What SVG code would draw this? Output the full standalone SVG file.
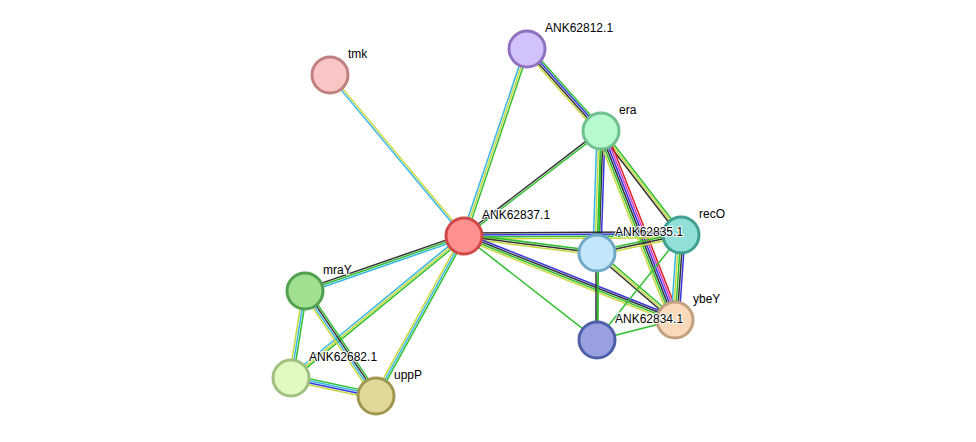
<svg xmlns="http://www.w3.org/2000/svg" width="976" height="442" viewBox="0 0 976 442">
<style>
line{stroke-width:1.5;fill:none}
.g{stroke:#2fbf2f}.y{stroke:#c8d83c}.c{stroke:#35b5e6}.k{stroke:#333}.b{stroke:#3535e0}.m{stroke:#d040d0}.r{stroke:#e02020}
circle{stroke-width:3}
text{font-family:"Liberation Sans",Arial,sans-serif;font-size:12px;fill:#000;paint-order:stroke;stroke:#fff;stroke-width:2px}
</style>
<rect width="976" height="442" fill="#fff"/>
<g id="edges">
<g transform="translate(330,75) rotate(50.2)"><line class="y" x1="0" y1="-1" x2="209.5" y2="-1"/><line class="c" x1="0" y1="1" x2="209.5" y2="1"/></g>
<g transform="translate(527,49) rotate(108.6)"><line class="g" x1="0" y1="-2" x2="197.3" y2="-2"/><line class="y" x1="0" y1="0" x2="197.3" y2="0"/><line class="c" x1="0" y1="2" x2="197.3" y2="2"/></g>
<g transform="translate(527,49) rotate(48.1)"><line class="g" x1="0" y1="-3" x2="110.5" y2="-3"/><line class="b" x1="0" y1="-1" x2="110.5" y2="-1"/><line class="k" x1="0" y1="1" x2="110.5" y2="1"/><line class="y" x1="0" y1="3" x2="110.5" y2="3"/></g>
<g transform="translate(601,131) rotate(142.5)"><line class="g" x1="0" y1="-1" x2="172.6" y2="-1"/><line class="k" x1="0" y1="1" x2="172.6" y2="1"/></g>
<g transform="translate(601,131) rotate(91.9)"><line class="b" x1="0" y1="-4" x2="122.1" y2="-4"/><line class="k" x1="0" y1="-2" x2="122.1" y2="-2"/><line class="g" x1="0" y1="0" x2="122.1" y2="0"/><line class="y" x1="0" y1="2" x2="122.1" y2="2"/><line class="c" x1="0" y1="4" x2="122.1" y2="4"/></g>
<g transform="translate(601,131) rotate(52.4)"><line class="g" x1="0" y1="-2" x2="131.2" y2="-2"/><line class="y" x1="0" y1="0" x2="131.2" y2="0"/><line class="k" x1="0" y1="2" x2="131.2" y2="2"/></g>
<g transform="translate(601,131) rotate(68.6)"><line class="r" x1="0" y1="-5" x2="203" y2="-5"/><line class="m" x1="0" y1="-3" x2="203" y2="-3"/><line class="b" x1="0" y1="-1" x2="203" y2="-1"/><line class="k" x1="0" y1="1" x2="203" y2="1"/><line class="g" x1="0" y1="3" x2="203" y2="3"/><line class="y" x1="0" y1="5" x2="203" y2="5"/></g>
<g transform="translate(601,131) rotate(91.1)"><line class="g" x1="0" y1="0" x2="209" y2="0"/></g>
<g transform="translate(464,236) rotate(-0.3)"><line class="k" x1="0" y1="-3" x2="217" y2="-3"/><line class="b" x1="0" y1="-1" x2="217" y2="-1"/><line class="g" x1="0" y1="1" x2="217" y2="1"/><line class="y" x1="0" y1="3" x2="217" y2="3"/></g>
<g transform="translate(464,236) rotate(7.3)"><line class="g" x1="0" y1="-2" x2="134.1" y2="-2"/><line class="k" x1="0" y1="0" x2="134.1" y2="0"/><line class="y" x1="0" y1="2" x2="134.1" y2="2"/></g>
<g transform="translate(464,236) rotate(21.7)"><line class="b" x1="0" y1="-3" x2="227.1" y2="-3"/><line class="k" x1="0" y1="-1" x2="227.1" y2="-1"/><line class="g" x1="0" y1="1" x2="227.1" y2="1"/><line class="y" x1="0" y1="3" x2="227.1" y2="3"/></g>
<g transform="translate(464,236) rotate(38)"><line class="g" x1="0" y1="0" x2="168.8" y2="0"/></g>
<g transform="translate(464,236) rotate(160.9)"><line class="c" x1="0" y1="-2" x2="168.2" y2="-2"/><line class="g" x1="0" y1="0" x2="168.2" y2="0"/><line class="k" x1="0" y1="2" x2="168.2" y2="2"/></g>
<g transform="translate(464,236) rotate(140.6)"><line class="g" x1="0" y1="-2" x2="223.8" y2="-2"/><line class="y" x1="0" y1="0" x2="223.8" y2="0"/><line class="c" x1="0" y1="2" x2="223.8" y2="2"/></g>
<g transform="translate(464,236) rotate(118.8)"><line class="g" x1="0" y1="-2" x2="182.6" y2="-2"/><line class="c" x1="0" y1="0" x2="182.6" y2="0"/><line class="y" x1="0" y1="2" x2="182.6" y2="2"/></g>
<g transform="translate(597,253) rotate(-12.1)"><line class="g" x1="0" y1="-2" x2="85.9" y2="-2"/><line class="k" x1="0" y1="0" x2="85.9" y2="0"/><line class="y" x1="0" y1="2" x2="85.9" y2="2"/></g>
<g transform="translate(597,253) rotate(40.7)"><line class="g" x1="0" y1="-2" x2="102.8" y2="-2"/><line class="y" x1="0" y1="0" x2="102.8" y2="0"/><line class="k" x1="0" y1="2" x2="102.8" y2="2"/></g>
<g transform="translate(597,253) rotate(90)"><line class="g" x1="0" y1="-1" x2="87" y2="-1"/><line class="k" x1="0" y1="1" x2="87" y2="1"/></g>
<g transform="translate(681,235) rotate(94)"><line class="b" x1="0" y1="-4" x2="85.2" y2="-4"/><line class="k" x1="0" y1="-2" x2="85.2" y2="-2"/><line class="g" x1="0" y1="0" x2="85.2" y2="0"/><line class="y" x1="0" y1="2" x2="85.2" y2="2"/><line class="c" x1="0" y1="4" x2="85.2" y2="4"/></g>
<g transform="translate(681,235) rotate(128.7)"><line class="g" x1="0" y1="0" x2="134.5" y2="0"/></g>
<g transform="translate(675,320) rotate(165.6)"><line class="g" x1="0" y1="0" x2="80.5" y2="0"/></g>
<g transform="translate(305,291) rotate(99.1)"><line class="g" x1="0" y1="-2" x2="88.1" y2="-2"/><line class="c" x1="0" y1="0" x2="88.1" y2="0"/><line class="y" x1="0" y1="2" x2="88.1" y2="2"/></g>
<g transform="translate(305,291) rotate(55.9)"><line class="g" x1="0" y1="-3" x2="126.8" y2="-3"/><line class="k" x1="0" y1="-1" x2="126.8" y2="-1"/><line class="c" x1="0" y1="1" x2="126.8" y2="1"/><line class="y" x1="0" y1="3" x2="126.8" y2="3"/></g>
<g transform="translate(291,378) rotate(12)"><line class="g" x1="0" y1="-3" x2="86.9" y2="-3"/><line class="c" x1="0" y1="-1" x2="86.9" y2="-1"/><line class="b" x1="0" y1="1" x2="86.9" y2="1"/><line class="y" x1="0" y1="3" x2="86.9" y2="3"/></g>
</g>
<g id="tmk"><circle cx="330" cy="75" r="18" fill="#f9c5c5" stroke="#c08080"/><text x="348" y="58">tmk</text></g>
<g id="ANK62812.1"><circle cx="527" cy="49" r="18" fill="#d2c2fb" stroke="#9070c0"/><text x="545" y="32">ANK62812.1</text></g>
<g id="era"><circle cx="601" cy="131" r="18" fill="#b8fad0" stroke="#70c090"/><text x="619" y="114">era</text></g>
<g id="ANK62837.1"><circle cx="464" cy="236" r="18" fill="#ff9090" stroke="#d04848"/><text x="482" y="219">ANK62837.1</text></g>
<g id="recO"><circle cx="681" cy="235" r="18" fill="#90e0d8" stroke="#40a090"/><text x="699" y="218">recO</text></g>
<g id="ANK62835.1"><circle cx="597" cy="253" r="18" fill="#c2e6fa" stroke="#70a8c8"/><text x="615" y="236">ANK62835.1</text></g>
<g id="mraY"><circle cx="305" cy="291" r="18" fill="#a0e090" stroke="#50a050"/><text x="323" y="274">mraY</text></g>
<g id="ybeY"><circle cx="675" cy="320" r="18" fill="#fad8b8" stroke="#c0a080"/><text x="693" y="303">ybeY</text></g>
<g id="ANK62834.1"><circle cx="597" cy="340" r="18" fill="#98a0e0" stroke="#5060a8"/><text x="615" y="323">ANK62834.1</text></g>
<g id="ANK62682.1"><circle cx="291" cy="378" r="18" fill="#e0fac0" stroke="#a0c080"/><text x="309" y="361">ANK62682.1</text></g>
<g id="uppP"><circle cx="376" cy="396" r="18" fill="#e0d898" stroke="#a09850"/><text x="394" y="379">uppP</text></g>
</svg>
